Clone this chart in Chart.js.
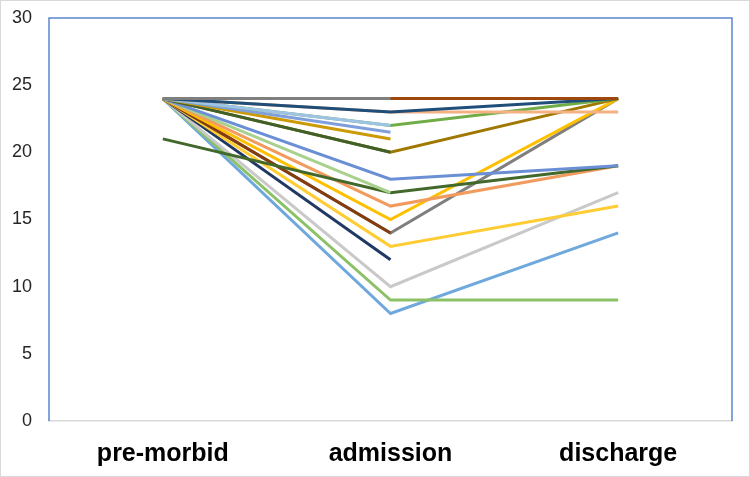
<!DOCTYPE html>
<html>
<head>
<meta charset="utf-8">
<script src="https://cdn.jsdelivr.net/npm/chart.js@4/dist/chart.umd.min.js"></script>
<style>
  body { margin: 0; background: #fff; }
  #wrap { width: 750px; height: 477px; }
</style>
</head>
<body>
<div id="wrap"><canvas id="chart"></canvas></div>
<script>
'use strict';

const categories = ['pre-morbid', 'admission', 'discharge'];
const yTicks = [0, 5, 10, 15, 20, 25, 30];

// one entry per line, first entry drawn on top
const premorbid = [24, 24, 24, 24, 24, 24, 24, 24, 24, 24, 24, 24, 21, 24, 24, 24, 24, 24, 24, 24, 24, 24];
const admission = [24, 24, 23, 23, 22, 22, 21.5, 21, 20, 20, 18, 17, 17, 16, 15, 14, 14, 13, 12, 10, 9, 8];
const discharge = [null, 24, 24, 23, null, 24, null, null, null, 24, 19, null, 19, 19, 24, null, 24, 16, null, 17, 9, 14];
const lineColors = [
  '#7f7f7f', '#9e480e', '#1f4e79', '#f4b183', '#9dc3e6', '#70ad47',
  '#7f9fdc', '#cc9a06', '#3f6129', '#a07800', '#6a8fd4', '#a9d18e',
  '#43682b', '#f29b5e', '#ffc000', '#843c0c', '#7f7f7f', '#ffcd33',
  '#1f3864', '#c9c9c9', '#8cc168', '#6fa8dc'
];

let datasets = premorbid.map((v, i) => ({
  label: 'Patient ' + (i + 1),
  data: [v, admission[i], discharge[i]],
  borderColor: lineColors[i],
  backgroundColor: lineColors[i],
  borderWidth: 3,
  pointRadius: 0,
  tension: 0,
  fill: false,
  spanGaps: false
}));

let frame = {
  id: 'frame',
  beforeDatasetsDraw(chart) {
    let ctx = chart.ctx;
    let a = chart.chartArea;
    ctx.save();
    ctx.strokeStyle = '#5b85d0';
    ctx.lineWidth = 1.5;
    ctx.beginPath();
    ctx.moveTo(a.left, a.bottom);
    ctx.lineTo(a.left, a.top);
    ctx.lineTo(a.right, a.top);
    ctx.lineTo(a.right, a.bottom);
    ctx.stroke();
    ctx.restore();
  },
  afterDraw(chart) {
    let ctx = chart.ctx;
    ctx.save();
    ctx.strokeStyle = '#d9d9d9';
    ctx.lineWidth = 1;
    ctx.strokeRect(0.5, 0.5, chart.width - 1, chart.height - 1);
    ctx.restore();
  }
};

let config = {
  type: 'line',
  data: { labels: categories, datasets: datasets },
  plugins: [frame],
  options: {
    responsive: true,
    maintainAspectRatio: false,
    animation: false,
    layout: { padding: { top: 18, right: 18, bottom: 0, left: 0 } },
    plugins: { legend: { display: false }, tooltip: { enabled: false } },
    scales: {
      x: {
        offset: true,
        grid: { display: false, drawTicks: false },
        border: { display: true, color: '#d9d9d9', width: 1.5 },
        afterFit: s => { s.height = 56; },
        ticks: {
          padding: 18,
          color: '#000',
          font: { family: "'Liberation Sans', Arial", size: 25, weight: 'bold' }
        }
      },
      y: {
        min: 0,
        max: 30,
        grid: { display: false, drawTicks: false },
        border: { display: false },
        afterFit: s => { s.width = 49; s.paddingTop = 0; s.paddingBottom = 0; },
        afterBuildTicks: s => { s.ticks = yTicks.map(v => ({ value: v })); },
        ticks: {
          padding: 17,
          color: '#262626',
          font: { family: "'Liberation Sans', Arial", size: 18 }
        }
      }
    }
  }
};

new Chart(document.getElementById('chart'), config);
</script>
</body>
</html>
